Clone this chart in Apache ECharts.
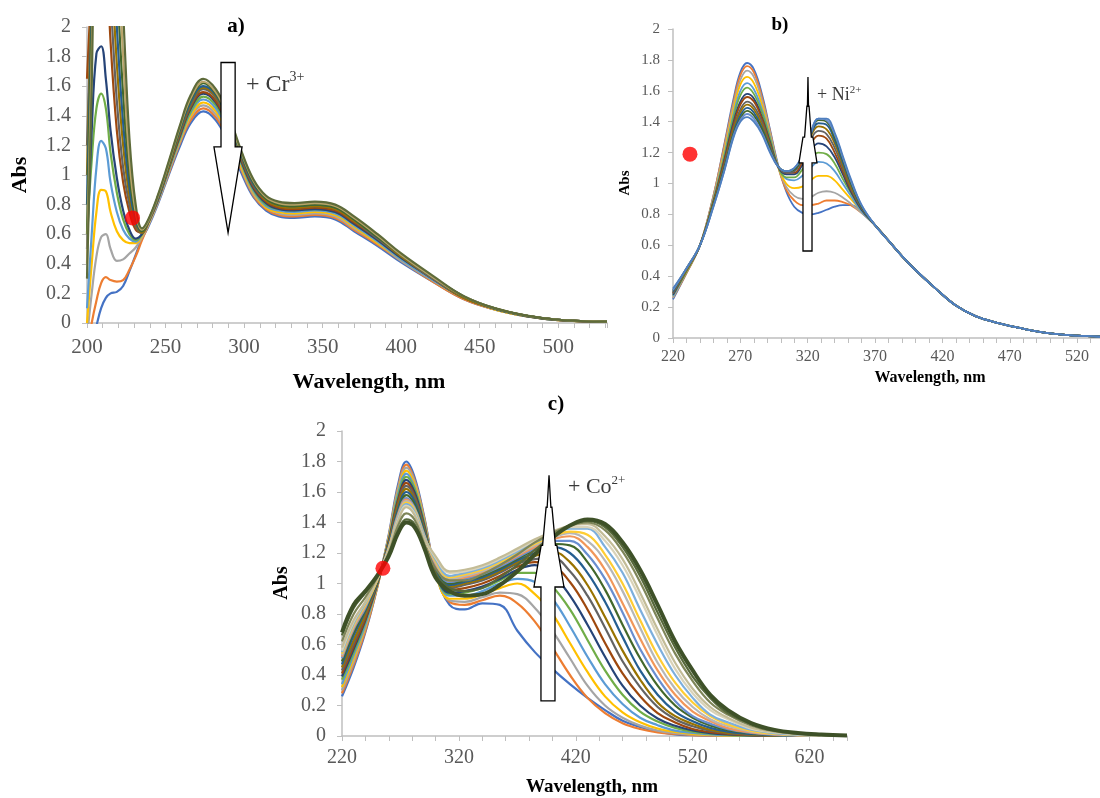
<!DOCTYPE html>
<html><head><meta charset="utf-8">
<script src="https://cdn.jsdelivr.net/npm/echarts@6/dist/echarts.min.js"></script>
<style>html,body{margin:0;padding:0;background:#fff}#c{width:1100px;height:798px}</style>
</head><body><div id="c"></div>
<script>
// ---------- Panel a (Cr3+) ----------
const wlA = [200,203,206,209,212,215,219,223,227,231,235,239,245,252,259,266,274,282,290,298,306,314,322,332,345,358,370,385,400,420,440,460,480,500,531];
const crA00 = [-0.3,-0.15,-0.02,0.10,0.17,0.20,0.21,0.25,0.35,0.46,0.57,0.65,0.80,1.00,1.19,1.35,1.43,1.37,1.22,1.02,0.85,0.76,0.72,0.71,0.72,0.70,0.62,0.52,0.41,0.28,0.16,0.09,0.045,0.02,0.008];
const crA01 = [-0.2,0.0,0.15,0.27,0.31,0.29,0.28,0.29,0.36,0.45,0.56,0.66,0.81,1.01,1.21,1.37,1.45,1.39,1.24,1.04,0.86,0.77,0.73,0.72,0.73,0.71,0.63,0.53,0.42,0.28,0.16,0.09,0.045,0.02,0.008];
const crA02 = [-0.1,0.2,0.45,0.58,0.60,0.50,0.42,0.43,0.47,0.51,0.58,0.66,0.81,1.02,1.22,1.39,1.47,1.41,1.26,1.05,0.87,0.78,0.74,0.73,0.74,0.72,0.64,0.54,0.42,0.29,0.17,0.09,0.046,0.02,0.008];
const crA03 = [0.0,0.40,0.75,0.90,0.89,0.75,0.62,0.56,0.54,0.54,0.59,0.67,0.82,1.03,1.23,1.40,1.49,1.43,1.27,1.06,0.88,0.78,0.75,0.74,0.75,0.73,0.65,0.54,0.43,0.29,0.17,0.09,0.046,0.02,0.008];
const crA04 = [0.1,0.6,1.05,1.23,1.18,0.95,0.75,0.63,0.57,0.55,0.60,0.68,0.82,1.03,1.24,1.42,1.51,1.45,1.29,1.08,0.89,0.79,0.76,0.75,0.76,0.74,0.66,0.55,0.43,0.29,0.17,0.095,0.047,0.021,0.008];
const crA05 = [0.6,1.1,1.45,1.55,1.45,1.15,0.88,0.70,0.60,0.56,0.60,0.68,0.83,1.04,1.25,1.43,1.53,1.47,1.31,1.09,0.90,0.80,0.77,0.76,0.77,0.75,0.67,0.56,0.44,0.30,0.17,0.095,0.047,0.021,0.008];
const crA06 = [0.5,1.3,1.82,1.87,1.65,1.30,0.98,0.76,0.63,0.57,0.60,0.68,0.83,1.05,1.26,1.45,1.55,1.49,1.32,1.10,0.91,0.81,0.77,0.76,0.77,0.75,0.67,0.56,0.44,0.30,0.17,0.095,0.047,0.021,0.008];
const crA07 = [1.65,2.3,2.8,3,2.6,1.9,1.3,0.95,0.75,0.63,0.61,0.68,0.83,1.05,1.27,1.46,1.56,1.50,1.33,1.11,0.92,0.82,0.78,0.77,0.78,0.76,0.68,0.57,0.45,0.30,0.17,0.096,0.048,0.021,0.008];
const crA08 = [1.2,2.2,3,3,2.8,2.2,1.5,1.05,0.80,0.65,0.61,0.68,0.84,1.06,1.28,1.47,1.58,1.52,1.35,1.12,0.93,0.83,0.79,0.78,0.79,0.77,0.69,0.57,0.45,0.30,0.17,0.096,0.048,0.021,0.008];
const crA09 = [1.0,2.2,3,3,3,2.5,1.75,1.2,0.86,0.67,0.61,0.69,0.84,1.06,1.29,1.48,1.59,1.53,1.36,1.13,0.94,0.83,0.79,0.78,0.79,0.77,0.69,0.58,0.45,0.31,0.17,0.097,0.048,0.022,0.009];
const crA10 = [0.8,2.1,3,3,3,2.8,2.0,1.35,0.92,0.69,0.62,0.69,0.84,1.07,1.30,1.49,1.60,1.54,1.37,1.14,0.94,0.84,0.80,0.79,0.80,0.78,0.70,0.58,0.46,0.31,0.18,0.097,0.048,0.022,0.009];
const crA11 = [0.6,2.0,3,3,3,3,2.3,1.55,1.0,0.72,0.62,0.69,0.85,1.07,1.31,1.51,1.62,1.55,1.38,1.15,0.95,0.84,0.80,0.79,0.80,0.78,0.70,0.58,0.46,0.31,0.18,0.098,0.049,0.022,0.009];
const crA12 = [0.4,1.8,3,3,3,3,2.6,1.8,1.1,0.75,0.63,0.69,0.85,1.08,1.32,1.52,1.63,1.56,1.39,1.16,0.96,0.85,0.81,0.80,0.81,0.79,0.71,0.59,0.46,0.31,0.18,0.098,0.049,0.022,0.009];
const crA13 = [0.3,1.6,3,3,3,3,2.9,2.1,1.25,0.80,0.64,0.70,0.86,1.09,1.33,1.54,1.65,1.58,1.41,1.17,0.97,0.86,0.82,0.81,0.82,0.80,0.72,0.60,0.47,0.32,0.18,0.099,0.05,0.022,0.009];
const curvesA = [crA00,crA01,crA02,crA03,crA04,crA05,crA06,crA07,crA08,crA09,crA10,crA11,crA12,crA13];
const colorsA = ['#4472C4','#ED7D31','#A5A5A5','#FFC000','#5B9BD5','#70AD47','#264478','#9E480E','#636363','#997300','#255E91','#43682B','#B9A46A','#5E6B3A'];
const ticksA = [200,250,300,350,400,450,500];
const markerA = [229,0.71];

// ---------- Panel b (Ni2+) ----------
const wlB = [220,230,240,250,258,265,270,275,280,286,292,298,304,310,316,322,328,334,340,346,352,360,370,380,390,400,415,430,445,460,480,500,520,537];
const tailB = [0.73,0.63,0.53,0.44,0.32,0.21,0.14,0.10,0.06,0.03,0.015,0.008];
const niB00 = [0.25,0.42,0.60,0.92,1.25,1.55,1.72,1.78,1.74,1.58,1.35,1.12,0.95,0.85,0.81,0.80,0.81,0.83,0.85,0.86,0.86,0.82];
const niB01 = [0.26,0.42,0.60,0.92,1.24,1.53,1.70,1.76,1.72,1.56,1.34,1.11,0.96,0.89,0.86,0.86,0.87,0.89,0.89,0.88,0.86,0.81];
const niB02 = [0.26,0.43,0.60,0.91,1.22,1.51,1.67,1.73,1.69,1.54,1.33,1.11,0.98,0.92,0.90,0.91,0.94,0.95,0.94,0.91,0.87,0.81];
const niB03 = [0.27,0.43,0.60,0.90,1.20,1.48,1.64,1.69,1.65,1.51,1.31,1.11,1.00,0.97,0.98,1.02,1.05,1.05,1.02,0.96,0.90,0.82];
const niB04 = [0.27,0.43,0.60,0.90,1.18,1.45,1.60,1.65,1.61,1.48,1.30,1.11,1.03,1.02,1.05,1.10,1.14,1.13,1.08,1.00,0.92,0.82];
const niB05 = [0.28,0.43,0.60,0.89,1.17,1.43,1.57,1.62,1.58,1.46,1.29,1.11,1.04,1.04,1.09,1.16,1.20,1.19,1.13,1.03,0.94,0.83];
const niB06 = [0.28,0.44,0.60,0.88,1.15,1.40,1.53,1.58,1.55,1.43,1.27,1.11,1.06,1.06,1.12,1.21,1.26,1.24,1.17,1.06,0.95,0.83];
const niB07 = [0.29,0.44,0.60,0.88,1.14,1.38,1.51,1.56,1.53,1.42,1.26,1.11,1.07,1.07,1.14,1.25,1.31,1.29,1.20,1.08,0.96,0.84];
const niB08 = [0.29,0.44,0.60,0.87,1.12,1.36,1.48,1.53,1.50,1.40,1.25,1.11,1.07,1.08,1.16,1.28,1.34,1.32,1.23,1.10,0.97,0.84];
const niB09 = [0.30,0.44,0.60,0.87,1.11,1.35,1.46,1.51,1.48,1.38,1.24,1.11,1.08,1.09,1.17,1.30,1.37,1.35,1.26,1.12,0.98,0.85];
const niB10 = [0.30,0.45,0.60,0.86,1.10,1.33,1.44,1.49,1.46,1.36,1.23,1.11,1.08,1.09,1.17,1.31,1.39,1.38,1.28,1.14,1.00,0.85];
const niB11 = [0.31,0.45,0.60,0.86,1.09,1.32,1.42,1.47,1.44,1.35,1.22,1.11,1.08,1.09,1.18,1.32,1.41,1.40,1.30,1.16,1.01,0.85];
const niB12 = [0.31,0.45,0.60,0.85,1.08,1.31,1.41,1.45,1.42,1.33,1.21,1.11,1.08,1.10,1.18,1.32,1.42,1.41,1.32,1.17,1.02,0.86];
const niB13 = [0.32,0.45,0.60,0.85,1.08,1.30,1.40,1.43,1.40,1.32,1.20,1.11,1.08,1.10,1.18,1.32,1.42,1.42,1.33,1.18,1.03,0.86];
const curvesB = [niB00,niB01,niB02,niB03,niB04,niB05,niB06,niB07,niB08,niB09,niB10,niB11,niB12,niB13].map(h => h.concat(tailB));
const colorsB = ['#4472C4','#ED7D31','#A5A5A5','#FFC000','#5B9BD5','#70AD47','#264478','#9E480E','#636363','#997300','#255E91','#43682B','#698ED0','#4F7FBF'];
const ticksB = [220,270,320,370,420,470,520];
const markerB = [232.6,1.19];

// ---------- Panel c (Co2+) ----------
const wlC = [220,230,240,250,260,268,275,282,290,300,312,325,340,355,370,385,400,415,430,445,460,475,490,505,520,535,550,570,590,610,630,652];
const coC00 = [0.26,0.45,0.68,0.97,1.32,1.65,1.80,1.70,1.45,1.08,0.86,0.83,0.87,0.86,0.69,0.55,0.44,0.34,0.25,0.17,0.10,0.06,0.03,0.01,0.005,0.002,0,0,0,0,0,0];
const coC01 = [0.28,0.47,0.69,0.97,1.31,1.63,1.78,1.68,1.44,1.08,0.88,0.86,0.89,0.92,0.87,0.75,0.58,0.40,0.25,0.15,0.084,0.046,0.024,0.013,0.006,0.003,0.001,0,0,0,0,0];
const coC02 = [0.30,0.49,0.71,0.98,1.31,1.62,1.76,1.67,1.43,1.08,0.89,0.88,0.91,0.94,0.93,0.84,0.69,0.51,0.33,0.20,0.12,0.068,0.035,0.019,0.01,0.005,0.002,0,0,0,0,0];
const coC03 = [0.32,0.51,0.72,0.98,1.30,1.60,1.74,1.65,1.42,1.07,0.90,0.90,0.93,0.97,1.00,0.93,0.80,0.61,0.42,0.26,0.155,0.09,0.049,0.026,0.013,0.007,0.003,0.001,0,0,0,0];
const coC04 = [0.34,0.53,0.73,0.99,1.29,1.59,1.72,1.63,1.41,1.07,0.92,0.92,0.95,1.00,1.03,1.01,0.90,0.72,0.52,0.34,0.21,0.12,0.071,0.035,0.02,0.01,0.005,0.002,0,0,0,0];
const coC05 = [0.37,0.55,0.75,0.99,1.28,1.57,1.70,1.62,1.40,1.07,0.93,0.94,0.97,1.02,1.07,1.07,0.98,0.83,0.63,0.43,0.27,0.16,0.095,0.053,0.028,0.015,0.008,0.003,0.001,0,0,0];
const coC06 = [0.39,0.57,0.76,0.99,1.28,1.55,1.68,1.60,1.39,1.07,0.94,0.95,0.98,1.03,1.09,1.12,1.06,0.92,0.73,0.52,0.33,0.20,0.115,0.067,0.036,0.019,0.01,0.004,0.0015,0,0,0];
const coC07 = [0.41,0.59,0.77,1.00,1.27,1.54,1.66,1.58,1.38,1.07,0.96,0.97,1.00,1.05,1.11,1.14,1.12,1.01,0.83,0.61,0.41,0.26,0.15,0.089,0.046,0.025,0.014,0.006,0.002,0,0,0];
const coC08 = [0.43,0.61,0.79,1.00,1.26,1.52,1.64,1.57,1.37,1.08,0.97,0.99,1.02,1.07,1.13,1.16,1.17,1.08,0.92,0.71,0.49,0.32,0.19,0.11,0.064,0.035,0.019,0.008,0.002,0,0,0];
const coC09 = [0.45,0.63,0.80,1.01,1.26,1.51,1.62,1.55,1.36,1.09,0.98,1.00,1.03,1.08,1.14,1.18,1.21,1.14,0.99,0.78,0.56,0.37,0.22,0.13,0.079,0.041,0.022,0.01,0.003,0.001,0,0];
const coC10 = [0.47,0.66,0.82,1.01,1.25,1.49,1.60,1.54,1.35,1.10,0.99,1.01,1.04,1.09,1.15,1.20,1.24,1.20,1.07,0.88,0.65,0.43,0.27,0.16,0.096,0.053,0.029,0.013,0.005,0.002,0,0];
const coC11 = [0.49,0.68,0.83,1.01,1.24,1.47,1.58,1.52,1.34,1.11,1.00,1.02,1.05,1.10,1.16,1.22,1.26,1.25,1.14,0.96,0.73,0.51,0.33,0.20,0.12,0.069,0.038,0.018,0.007,0.002,0,0];
const coC12 = [0.51,0.70,0.84,1.02,1.24,1.46,1.56,1.50,1.33,1.12,1.01,1.03,1.06,1.11,1.17,1.23,1.28,1.28,1.19,1.03,0.81,0.57,0.38,0.23,0.13,0.081,0.044,0.021,0.008,0.003,0.001,0];
const coC13 = [0.52,0.71,0.85,1.02,1.23,1.45,1.55,1.49,1.32,1.13,1.02,1.04,1.07,1.12,1.18,1.24,1.29,1.31,1.24,1.09,0.87,0.64,0.43,0.27,0.16,0.098,0.052,0.024,0.011,0.004,0.001,0];
const coC14 = [0.53,0.72,0.86,1.02,1.23,1.44,1.54,1.49,1.32,1.14,1.03,1.05,1.08,1.13,1.19,1.25,1.30,1.33,1.28,1.15,0.95,0.71,0.48,0.31,0.19,0.11,0.066,0.029,0.013,0.005,0.002,0];
const coC15 = [0.54,0.73,0.86,1.02,1.23,1.43,1.53,1.48,1.31,1.15,1.04,1.06,1.09,1.14,1.20,1.26,1.31,1.34,1.32,1.19,1.00,0.76,0.53,0.35,0.22,0.13,0.076,0.034,0.015,0.006,0.002,0];
const coC16 = [0.55,0.74,0.87,1.03,1.22,1.43,1.52,1.47,1.31,1.16,1.05,1.07,1.10,1.15,1.21,1.27,1.32,1.36,1.36,1.24,1.07,0.83,0.60,0.40,0.25,0.14,0.09,0.041,0.019,0.008,0.003,0.001];
const coC17 = [0.56,0.75,0.88,1.03,1.22,1.42,1.51,1.46,1.30,1.17,1.07,1.08,1.11,1.16,1.22,1.28,1.33,1.37,1.37,1.28,1.12,0.90,0.66,0.44,0.28,0.17,0.11,0.048,0.023,0.011,0.004,0.001];
const coC18 = [0.58,0.76,0.88,1.03,1.22,1.41,1.50,1.45,1.30,1.18,1.08,1.09,1.12,1.17,1.23,1.29,1.34,1.38,1.39,1.31,1.16,0.94,0.70,0.48,0.31,0.19,0.12,0.056,0.026,0.012,0.005,0.001];
const coC19 = [0.62,0.80,0.91,1.04,1.20,1.38,1.46,1.42,1.27,1.10,1.02,1.02,1.06,1.12,1.19,1.27,1.33,1.38,1.40,1.35,1.21,1.01,0.77,0.54,0.36,0.22,0.14,0.069,0.031,0.015,0.007,0.002];
const coC20 = [0.66,0.84,0.94,1.05,1.19,1.35,1.42,1.39,1.25,1.06,0.97,0.95,0.97,1.04,1.12,1.22,1.31,1.38,1.41,1.37,1.24,1.05,0.81,0.58,0.39,0.25,0.15,0.08,0.037,0.018,0.007,0.002];
const coC21 = [0.68,0.86,0.95,1.05,1.18,1.33,1.40,1.37,1.24,1.04,0.95,0.92,0.93,0.99,1.08,1.19,1.30,1.38,1.42,1.39,1.27,1.09,0.86,0.62,0.43,0.27,0.17,0.085,0.04,0.02,0.01,0.003];
const curvesC = [coC00,coC01,coC02,coC03,coC04,coC05,coC06,coC07,coC08,coC09,coC10,coC11,coC12,coC13,coC14,coC15,coC16,coC17,coC18,coC19,coC20,coC21];
const colorsC = ['#4472C4','#ED7D31','#A5A5A5','#FFC000','#5B9BD5','#70AD47','#264478','#9E480E','#636363','#997300','#255E91','#43682B','#698ED0','#F1975A','#B7B7B7','#FFCD33','#7CAFDD','#D9D3B9','#C3BC97','#7E8558','#56683A','#3E5128'];
const ticksC = [220,320,420,520,620];
const markerC = [255,1.10];

// ---------- annotation arrows (data coordinates) ----------
const arrowA = [[285.3,1.76],[294.3,1.76],[294.3,1.19],[298.7,1.19],[289.8,0.61],[280.8,1.19],[285.3,1.19]];
const arrowB = [[316.5,0.563],[323.2,0.563],[323.2,1.133],[326.9,1.133],[323.9,1.30],[322.7,1.30],[321.0,1.50],[320.6,1.50],[320.2,1.69],[319.8,1.50],[319.4,1.50],[317.7,1.30],[316.5,1.30],[313.5,1.133],[316.5,1.133]];
const arrowC = [[390.2,0.23],[402.2,0.23],[402.2,0.977],[409.9,0.977],[403.8,1.25],[402.6,1.25],[399.6,1.50],[398.7,1.50],[397.1,1.71],[395.5,1.50],[394.6,1.50],[391.6,1.25],[390.4,1.25],[384.2,0.977],[390.2,0.977]];

const SERIF = 'Liberation Serif, Times New Roman, serif';
const chart = echarts.init(document.getElementById('c'), null, {renderer: 'canvas'});

function makeLines(gi, wl, curves, colors, width, lastWidth) {
  return curves.map((vals, i) => ({
    type: 'line', xAxisIndex: gi, yAxisIndex: gi,
    data: wl.map((x, j) => [x, vals[j]]),
    smooth: 0.4, showSymbol: false, symbol: 'none', silent: true, clip: true,
    lineStyle: {color: colors[i], width: (i === curves.length - 1 && lastWidth) ? lastWidth : width},
    itemStyle: {color: colors[i]}, animation: false, z: 2
  }));
}
function marker(gi, p) {
  return {type: 'scatter', xAxisIndex: gi, yAxisIndex: gi, data: [p], symbol: 'circle', symbolSize: 15,
    itemStyle: {color: '#FF0000'}, silent: true, z: 10, animation: false};
}
function xAx(gi, min, max, interval, ticks, fs, margin) {
  return {gridIndex: gi, type: 'value', min, max, interval,
    axisLine: {show: true, onZero: false, lineStyle: {color: '#BFBFBF', width: 1.5}},
    axisTick: {show: true, length: 5, lineStyle: {color: '#BFBFBF', width: 1}},
    splitLine: {show: false},
    axisLabel: {formatter: v => ticks.includes(Math.round(v)) && Math.abs(v - Math.round(v)) < 1e-6 ? String(Math.round(v)) : '',
      fontFamily: SERIF, fontSize: fs, color: '#595959', margin}};
}
function yAx(gi, fs, margin) {
  return {gridIndex: gi, type: 'value', min: 0, max: 2, interval: 0.2,
    axisLine: {show: true, onZero: false, lineStyle: {color: '#BFBFBF', width: 1.5}},
    axisTick: {show: true, length: 5, lineStyle: {color: '#BFBFBF', width: 1}},
    splitLine: {show: false},
    axisLabel: {fontFamily: SERIF, fontSize: fs, color: '#595959', margin}};
}

const option = {
  backgroundColor: '#ffffff',
  animation: false,
  grid: [
    {left: 87, top: 27, width: 520, height: 296, containLabel: false, outerBoundsMode: 'none'},
    {left: 673, top: 29, width: 427, height: 309, containLabel: false, outerBoundsMode: 'none'},
    {left: 342, top: 431, width: 505, height: 305, containLabel: false, outerBoundsMode: 'none'}
  ],
  xAxis: [
    xAx(0, 200, 531, 10, ticksA, 21, 14),
    xAx(1, 220, 537, 10, ticksB, 16, 11),
    xAx(2, 220, 652, 20, ticksC, 20, 12)
  ],
  yAxis: [yAx(0, 20, 16), yAx(1, 15, 13), yAx(2, 20, 16)],
  series: [
    ...makeLines(0, wlA, curvesA, colorsA, 2.2),
    ...makeLines(1, wlB, curvesB, colorsB, 1.8),
    ...makeLines(2, wlC, curvesC, colorsC, 2.2, 4),
    marker(0, markerA), marker(1, markerB), marker(2, markerC)
  ]
};
chart.setOption(option);

function poly(gi, pts) {
  return {type: 'polygon', z: 20, silent: true,
    shape: {points: pts.map(p => chart.convertToPixel({gridIndex: gi}, p))},
    style: {fill: '#ffffff', stroke: '#000000', lineWidth: 1.3}};
}
function txt(x, y, text, fs, extra) {
  return Object.assign({type: 'text', x, y, z: 30, silent: true,
    style: Object.assign({text, font: `bold ${fs}px ${SERIF}`, fill: '#000', align: 'center', verticalAlign: 'middle'}, {})}, extra || {});
}
function ionLabel(x, y, base, sup, fs) {
  return {type: 'text', x, y, z: 30, silent: true,
    style: {text: `{n|+ ${base}}{s|${sup}}`, align: 'left', verticalAlign: 'middle',
      rich: {n: {fontFamily: SERIF, fontSize: fs, fill: '#3a3a3a', color: '#3a3a3a', lineHeight: fs * 1.2},
             s: {fontFamily: SERIF, fontSize: Math.round(fs * 0.6), fill: '#3a3a3a', color: '#3a3a3a', verticalAlign: 'top', lineHeight: fs * 1.2}}}};
}
function axisTitle(x, y, text, fs, rotate) {
  return {type: 'text', x, y, rotation: rotate ? Math.PI / 2 : 0, z: 30, silent: true,
    style: {text, font: `bold ${fs}px ${SERIF}`, fill: '#000', align: 'center', verticalAlign: 'middle'}};
}

chart.setOption({
  graphic: [
    poly(0, arrowA), poly(1, arrowB), poly(2, arrowC),
    axisTitle(236, 27, 'a)', 21), axisTitle(780, 25, 'b)', 19), axisTitle(556, 405, 'c)', 21),
    axisTitle(20, 175, 'Abs', 22, true), axisTitle(625, 183, 'Abs', 15, true), axisTitle(282, 583, 'Abs', 20, true),
    axisTitle(369, 382, 'Wavelength, nm', 22), axisTitle(930, 378, 'Wavelength, nm', 16), axisTitle(592, 787, 'Wavelength, nm', 19),
    ionLabel(246, 85, 'Cr', '3+', 24), ionLabel(817, 95, 'Ni', '2+', 18), ionLabel(568, 487, 'Co', '2+', 22)
  ]
});
</script>
</body></html>
